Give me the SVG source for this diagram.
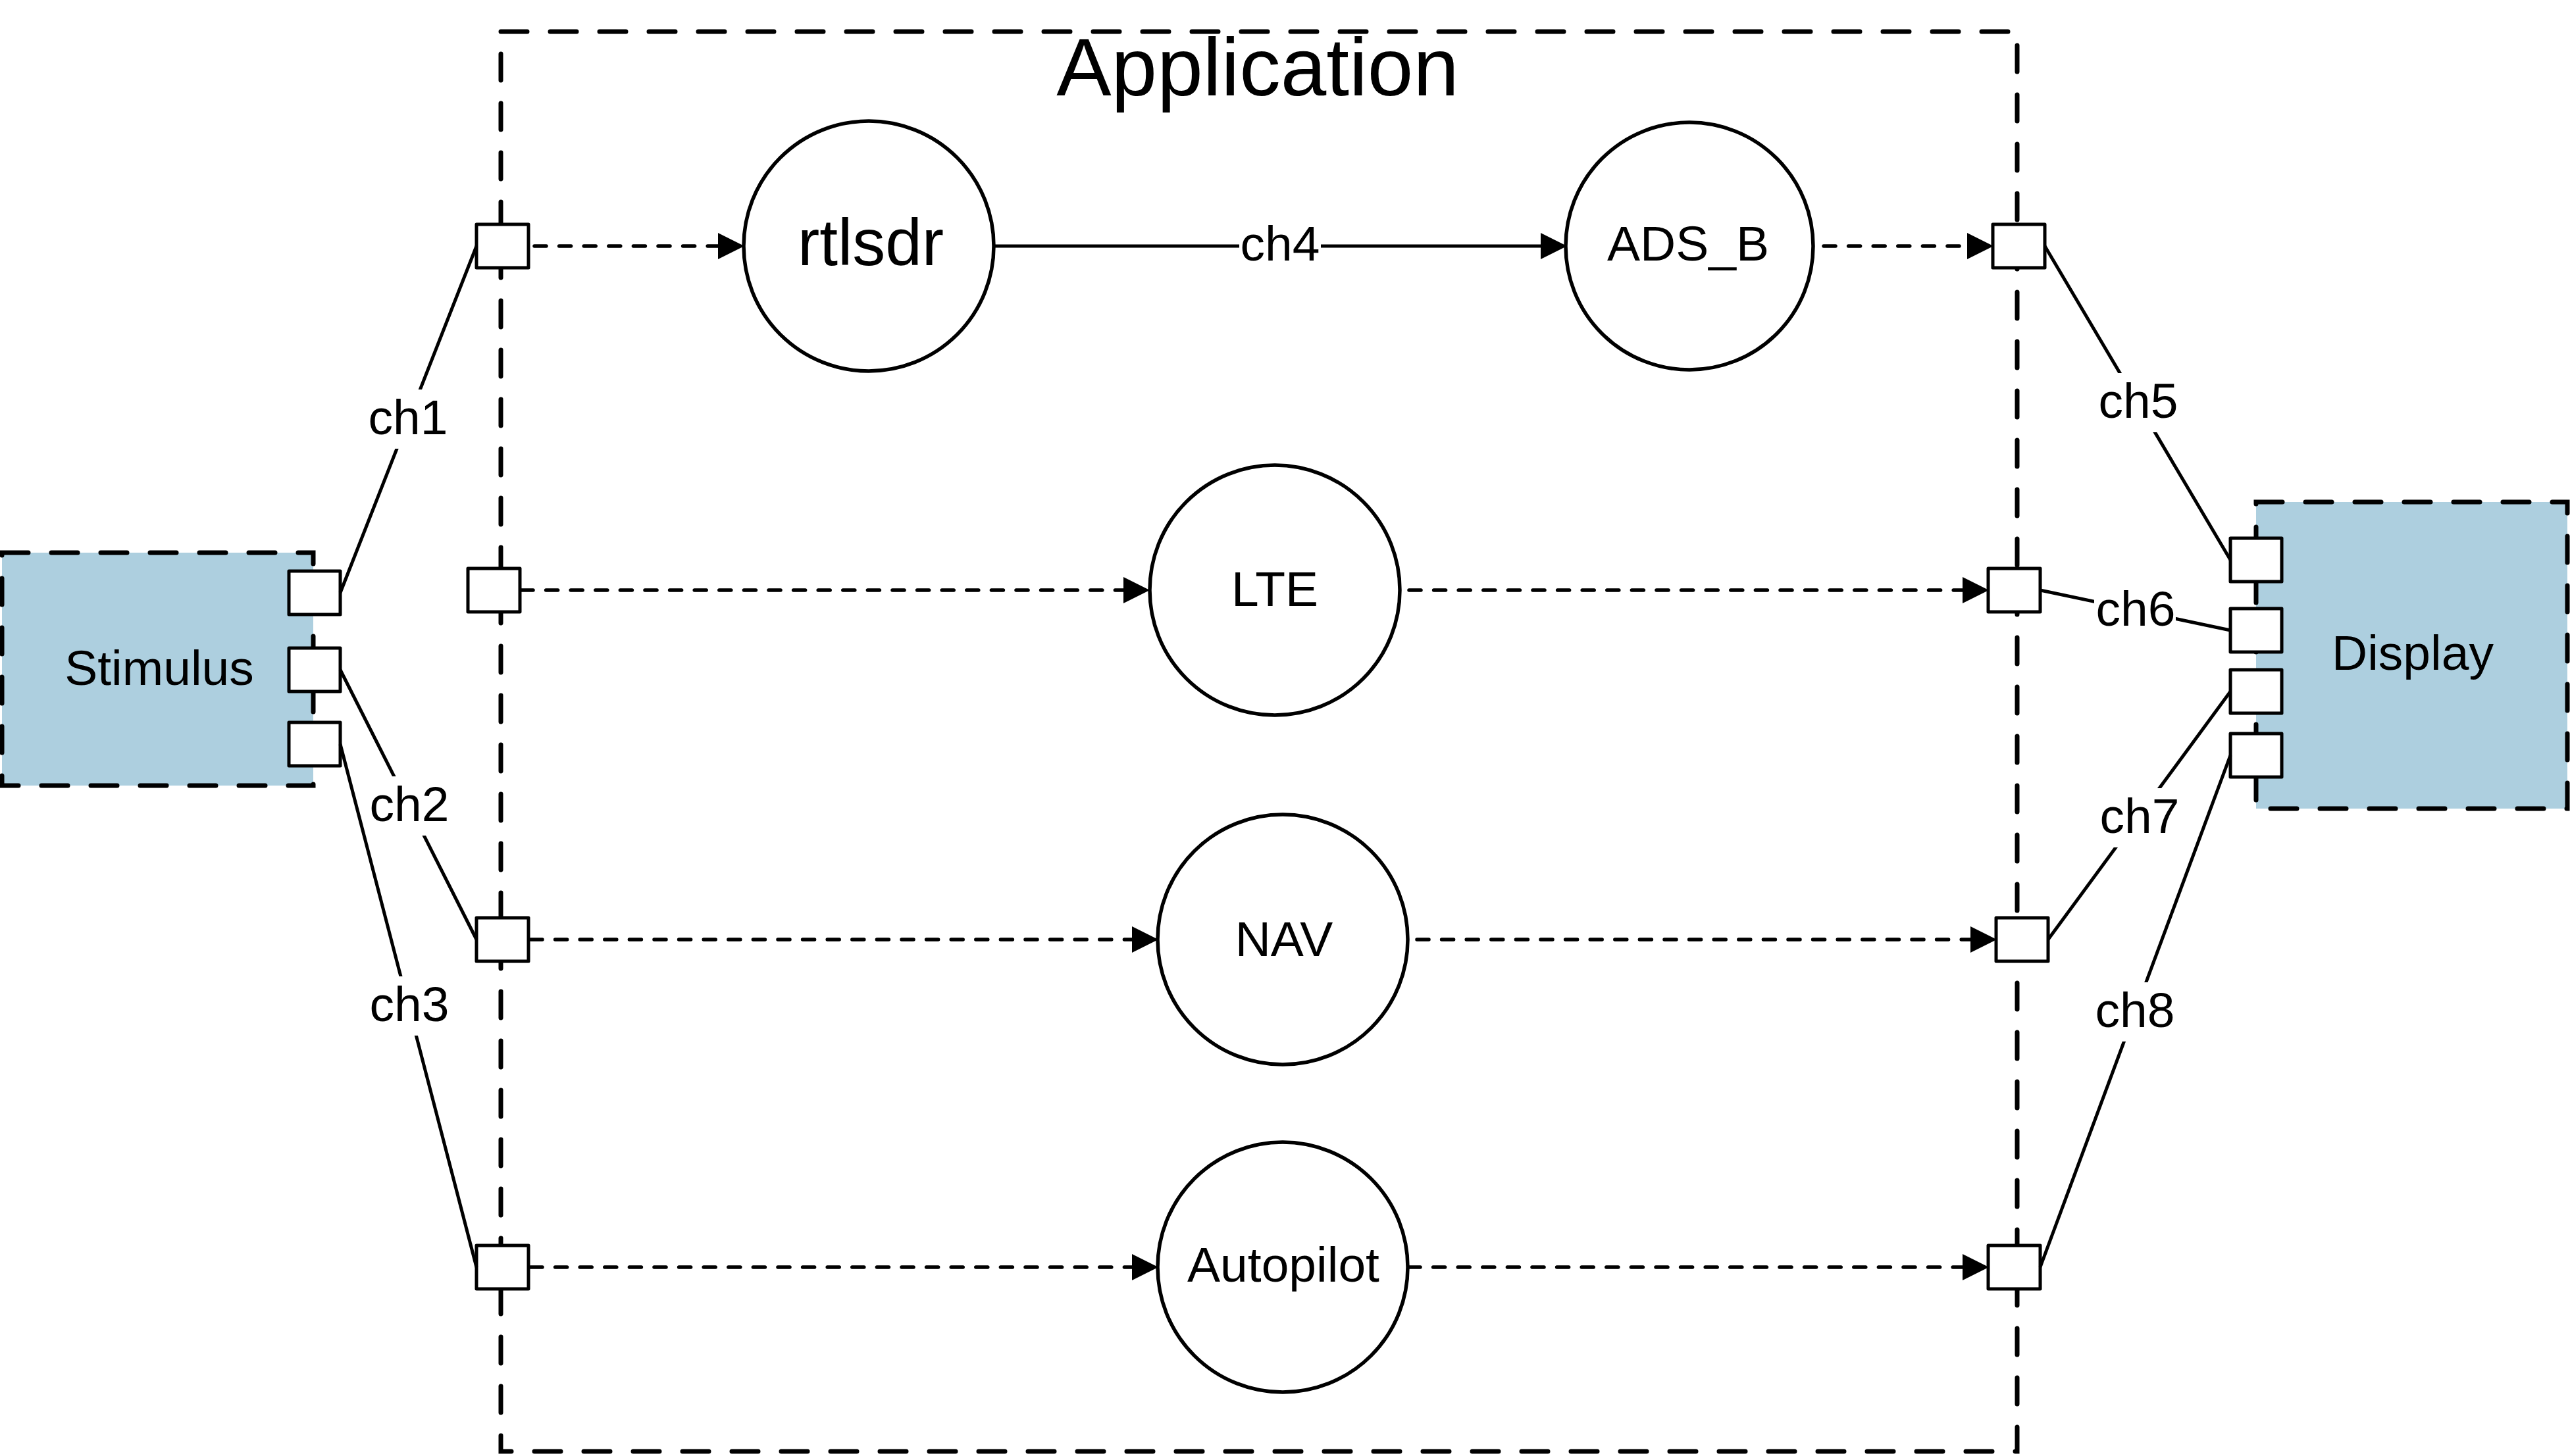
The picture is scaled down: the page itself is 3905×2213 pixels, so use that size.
<svg xmlns="http://www.w3.org/2000/svg" width="3905" height="2213" viewBox="0 0 3905 2213">
<defs>
<style>
text{font-family:"Liberation Sans",Arial,sans-serif;fill:#000}
.bnd{fill:none;stroke:#000;stroke-width:7;stroke-dasharray:40 35;stroke-linecap:round}
.blk{fill:#ADCFDF;stroke:#000;stroke-width:7;stroke-dasharray:40 35;stroke-linecap:round}
.port{fill:#fff;stroke:#000;stroke-width:5;stroke-linejoin:round}
.proc{fill:#fff;stroke:#000;stroke-width:5.5}
.flow{fill:none;stroke:#000;stroke-width:5.5;stroke-dasharray:18 19.6;stroke-linecap:round}
.ch{fill:none;stroke:#000;stroke-width:5}
.lbg{fill:#fff}
.lbl{font-size:75px;text-anchor:middle}
</style>
<marker id="arr" markerUnits="userSpaceOnUse" markerWidth="40" markerHeight="40" refX="0" refY="19.5" orient="auto" viewBox="0 0 39 39">
<path d="M0,0 L39,19.5 L0,39 z" fill="#000"/>
</marker>
</defs>
<rect width="3905" height="2213" fill="#fff"/>

<g id="Application">
<rect class="bnd" x="761" y="48" width="2304" height="2158"/>
<text x="1911" y="145" font-size="125" text-anchor="middle">Application</text>
</g>

<g id="Stimulus">
<rect class="blk" x="3" y="840" width="473" height="354"/>
<text class="lbl" x="242" y="1041">Stimulus</text>
<rect class="port" x="439" y="868" width="78" height="66"/>
<rect class="port" x="439" y="985" width="78" height="66"/>
<rect class="port" x="439" y="1098" width="78" height="66"/>
</g>

<g id="Display">
<rect class="blk" x="3428" y="763" width="473" height="466"/>
<text class="lbl" x="3666" y="1018">Display</text>
<rect class="port" x="3389" y="818" width="78" height="66"/>
<rect class="port" x="3389" y="925" width="78" height="66"/>
<rect class="port" x="3389" y="1018" width="78" height="66"/>
<rect class="port" x="3389" y="1115" width="78" height="66"/>
</g>

<g id="Application-ports">
<rect class="port" x="724" y="341" width="79" height="66"/>
<rect class="port" x="711" y="864" width="79" height="66"/>
<rect class="port" x="724" y="1395" width="79" height="66"/>
<rect class="port" x="724" y="1893" width="79" height="66"/>
<rect class="port" x="3028" y="341" width="79" height="66"/>
<rect class="port" x="3021" y="864" width="79" height="66"/>
<rect class="port" x="3033" y="1395" width="79" height="66"/>
<rect class="port" x="3021" y="1893" width="79" height="66"/>
</g>

<g id="rtlsdr">
<circle class="proc" cx="1320" cy="374" r="190"/>
<text x="1323" y="403" font-size="100" text-anchor="middle">rtlsdr</text>
</g>
<g id="ADS_B">
<circle class="proc" cx="2567" cy="374" r="188" stroke-width="4"/>
<text class="lbl" x="2565" y="396">ADS_B</text>
</g>
<g id="LTE">
<circle class="proc" cx="1937" cy="897" r="190"/>
<text class="lbl" x="1937" y="921">LTE</text>
</g>
<g id="NAV">
<circle class="proc" cx="1949" cy="1428" r="190"/>
<text class="lbl" x="1951" y="1453">NAV</text>
</g>
<g id="Autopilot">
<circle class="proc" cx="1949" cy="1926" r="190"/>
<text class="lbl" x="1950" y="1948">Autopilot</text>
</g>

<g id="connectors">
<path class="flow" d="M812,374 H1091" marker-end="url(#arr)"/>
<path class="ch" d="M1510,374 H2341" marker-end="url(#arr)"/>
<path class="flow" d="M2771,374 H2989" marker-end="url(#arr)"/>
<path class="flow" d="M792,897 H1707" marker-end="url(#arr)"/>
<path class="flow" d="M2141,897 H2982" marker-end="url(#arr)"/>
<path class="flow" d="M806,1428 H1720" marker-end="url(#arr)"/>
<path class="flow" d="M2153,1428 H2994" marker-end="url(#arr)"/>
<path class="flow" d="M806,1926 H1720" marker-end="url(#arr)"/>
<path class="flow" d="M2140,1926 H2982" marker-end="url(#arr)"/>

<path class="ch" d="M517,901 L724,374"/>
<path class="ch" d="M517,1018 L724,1428"/>
<path class="ch" d="M517,1131 L724,1926"/>
<path class="ch" d="M3107,374 L3389,851"/>
<path class="ch" d="M3100,897 L3389,958"/>
<path class="ch" d="M3112,1428 L3389,1051"/>
<path class="ch" d="M3100,1926 L3389,1148"/>

<rect class="lbg" x="556" y="592" width="128" height="90"/>
<text class="lbl" x="620" y="660">ch1</text>
<rect class="lbg" x="558" y="1180" width="128" height="90"/>
<text class="lbl" x="622" y="1248">ch2</text>
<rect class="lbg" x="558" y="1484" width="128" height="90"/>
<text class="lbl" x="622" y="1552">ch3</text>
<rect class="lbg" x="1883" y="340" width="124" height="76"/>
<text class="lbl" x="1945" y="396">ch4</text>
<rect class="lbg" x="3185" y="567" width="128" height="90"/>
<text class="lbl" x="3249" y="635">ch5</text>
<rect class="lbg" x="3182" y="883" width="124" height="88"/>
<text class="lbl" x="3245" y="951">ch6</text>
<rect class="lbg" x="3187" y="1198" width="128" height="90"/>
<text class="lbl" x="3251" y="1266">ch7</text>
<rect class="lbg" x="3180" y="1493" width="128" height="90"/>
<text class="lbl" x="3244" y="1561">ch8</text>
</g>
</svg>
